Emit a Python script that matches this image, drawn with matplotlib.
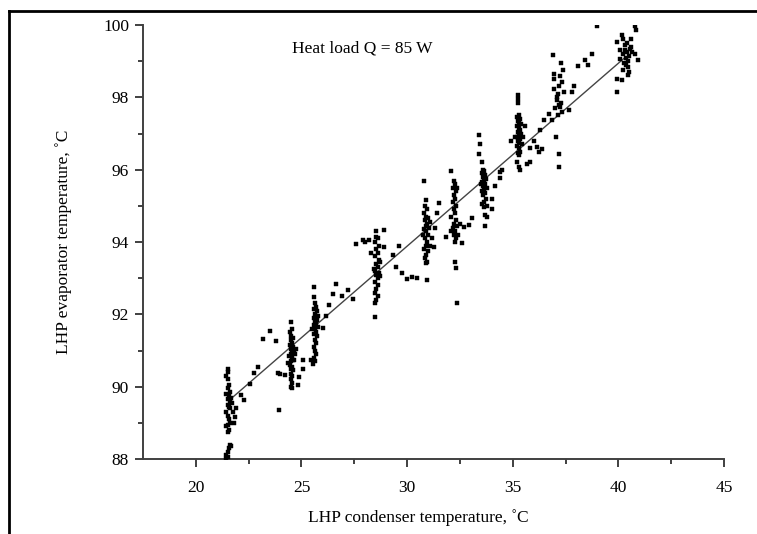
import matplotlib
matplotlib.use("Agg")
import matplotlib.pyplot as plt
import numpy as np
from matplotlib.lines import Line2D

# ---- data ----
c1_x = [21.5, 21.5, 21.45, 21.5, 21.55, 21.5, 21.6, 21.45, 21.55, 21.65, 21.5, 21.6, 21.7, 21.5, 21.55, 21.6,
        21.45, 21.5, 21.55, 21.6, 21.5, 21.45, 21.55, 21.5, 21.6, 21.65, 21.55, 21.5, 21.45, 21.5, 21.45,
        21.92, 22.3, 22.15, 21.84, 22.55, 22.94, 22.74, 21.75, 21.8]
c1_y = [90.5, 90.4, 90.3, 90.2, 90.05, 89.95, 89.85, 89.8, 89.75, 89.7, 89.65, 89.6, 89.55, 89.5, 89.45, 89.4,
        89.3, 89.2, 89.1, 89.0, 88.95, 88.9, 88.8, 88.75, 88.4, 88.35, 88.3, 88.2, 88.1, 88.05, 88.0,
        89.41, 89.63, 89.77, 89.17, 90.07, 90.53, 90.38, 89.3, 89.0]

c2_x = [24.5, 24.55, 24.45, 24.5, 24.6, 24.5, 24.55, 24.45, 24.6, 24.5, 24.55, 24.65, 24.5, 24.4, 24.55,
        24.6, 24.5, 24.45, 24.55, 24.5, 24.6, 24.5, 24.55, 24.5, 24.55, 24.5, 24.55, 24.7, 24.75, 24.35,
        23.88, 24.2, 23.93, 23.49, 23.17, 23.8, 25.06, 24.9, 24.83, 25.46, 25.06, 24.67, 24.0]
c2_y = [91.8, 91.6, 91.5, 91.4, 91.35, 91.3, 91.2, 91.15, 91.1, 91.05, 91.0, 90.95, 90.9, 90.85, 90.8,
        90.75, 90.7, 90.6, 90.55, 90.5, 90.45, 90.35, 90.3, 90.2, 90.1, 90.0, 89.95, 90.9, 91.05, 90.65,
        90.37, 90.32, 89.35, 91.54, 91.33, 91.26, 90.48, 90.27, 90.04, 90.73, 90.73, 90.73, 90.35]

c3_x = [25.6, 25.6, 25.65, 25.7, 25.6, 25.75, 25.65, 25.7, 25.6, 25.75, 25.65, 25.7, 25.6, 25.8, 25.65,
        25.7, 25.6, 25.75, 25.65, 25.7, 25.6, 25.65, 25.7, 25.6, 25.65, 25.55, 25.8, 25.5,
        26.17, 26.0, 26.48, 26.32, 26.64, 27.18, 27.42, 26.9]
c3_y = [92.76, 92.48, 92.3, 92.2, 92.15, 92.1, 92.0, 91.95, 91.9, 91.85, 91.8, 91.75, 91.7, 91.65, 91.6,
        91.5, 91.45, 91.4, 91.3, 91.2, 91.1, 91.0, 90.9, 90.8, 90.7, 90.64, 91.95, 91.6,
        91.95, 91.61, 92.56, 92.25, 92.83, 92.67, 92.42, 92.5]

c4_x = [28.55, 28.6, 28.5, 28.65, 28.55, 28.6, 28.5, 28.65, 28.55, 28.6, 28.5, 28.65, 28.55, 28.6, 28.5,
        28.6, 28.55, 28.5, 28.6, 28.55, 28.5, 28.49, 28.7, 28.45, 28.7,
        28.92, 28.92, 29.31, 29.62, 29.47, 29.78, 30.01, 30.25, 30.49, 28.21, 28.52, 27.9, 27.6, 28.3, 28.0]
c4_y = [94.3, 94.1, 94.0, 93.9, 93.8, 93.7, 93.6, 93.5, 93.4, 93.3, 93.2, 93.15, 93.1, 93.0, 92.9,
        92.8, 92.7, 92.6, 92.5, 92.4, 92.3, 91.93, 93.45, 93.25, 93.05,
        94.33, 93.86, 93.64, 93.88, 93.31, 93.15, 92.99, 93.04, 93.01, 94.05, 94.14, 94.05, 93.95, 93.7, 94.0]

c5_x = [30.8, 30.9, 30.85, 30.95, 30.8, 30.9, 31.0, 30.85, 30.95, 30.9, 31.05, 30.8, 30.9, 31.0, 30.85,
        30.95, 30.9, 30.8, 31.0, 30.9, 30.85, 30.95, 30.9, 31.1, 30.75, 31.1,
        31.51, 31.43, 31.27, 30.96, 31.3, 31.2]
c5_y = [95.69, 95.15, 95.0, 94.9, 94.8, 94.7, 94.65, 94.6, 94.5, 94.45, 94.4, 94.35, 94.3, 94.2, 94.1,
        94.0, 93.9, 93.8, 93.75, 93.65, 93.55, 93.45, 93.41, 94.55, 94.2, 93.9,
        95.07, 94.79, 93.86, 92.94, 94.4, 94.1]

c6_x = [32.09, 32.2, 32.25, 32.15, 32.3, 32.2, 32.25, 32.15, 32.3, 32.2, 32.25, 32.1, 32.3, 32.2, 32.35,
        32.15, 32.25, 32.2, 32.3, 32.25, 32.4, 32.1, 32.26, 32.33, 32.37, 32.37,
        32.69, 32.92, 33.08, 32.61, 31.83, 32.5]
c6_y = [95.96, 95.7, 95.6, 95.5, 95.4, 95.3, 95.2, 95.1, 95.0, 94.9, 94.8, 94.7, 94.6, 94.5, 94.45,
        94.4, 94.3, 94.2, 94.1, 94.0, 94.2, 94.3, 93.45, 93.27, 92.32, 95.48,
        94.42, 94.46, 94.65, 93.96, 94.14, 94.5]

c7_x = [33.4, 33.44, 33.4, 33.55, 33.6, 33.65, 33.55, 33.7, 33.6, 33.75, 33.65, 33.55, 33.7, 33.6, 33.8,
        33.65, 33.55, 33.7, 33.6, 33.75, 33.65, 33.55, 33.63, 33.71, 33.79, 33.68, 33.8, 33.5,
        34.02, 34.18, 34.5, 34.42, 34.0]
c7_y = [96.95, 96.72, 96.44, 96.21, 96.0, 95.95, 95.9, 95.85, 95.8, 95.75, 95.7, 95.65, 95.6, 95.55, 95.5,
        95.45, 95.4, 95.35, 95.3, 95.2, 95.1, 95.05, 94.97, 94.74, 94.68, 94.44, 95.0, 95.6,
        95.18, 95.54, 95.98, 95.78, 94.9]

c8_x = [35.25, 35.25, 35.25, 35.3, 35.2, 35.35, 35.25, 35.3, 35.4, 35.2, 35.3, 35.35, 35.25, 35.4, 35.3,
        35.2, 35.35, 35.25, 35.3, 35.45, 35.2, 35.3, 35.35, 35.25, 35.3, 35.28, 35.36, 35.2, 35.1, 35.5,
        36.15, 36.38, 36.23, 35.83, 35.67, 34.42, 35.8, 36.0, 34.9, 35.6]
c8_y = [98.06, 97.95, 97.85, 97.5, 97.45, 97.4, 97.35, 97.3, 97.25, 97.2, 97.15, 97.1, 97.05, 97.0, 96.95,
        96.9, 96.85, 96.8, 96.75, 96.7, 96.65, 96.6, 96.5, 96.45, 96.4, 96.07, 95.98, 96.2, 96.9, 96.9,
        96.63, 96.58, 96.49, 96.21, 96.17, 95.94, 96.6, 96.8, 96.8, 97.2]

c9_x = [36.9, 37.28, 37.36, 36.93, 37.33, 36.93, 37.41, 37.09, 37.25, 37.64, 36.7, 36.85, 36.46, 37.8,
        37.2, 37.15, 37.1, 37.3, 37.2, 37.0, 37.35, 37.15, 37.04, 37.17, 37.17, 36.95, 37.25,
        38.08, 38.4, 38.55, 38.77, 38.98, 37.9, 36.3]
c9_y = [99.16, 98.95, 98.75, 98.65, 98.42, 98.24, 98.15, 97.92, 97.73, 97.64, 97.55, 97.36, 97.36, 98.15,
        98.3, 98.1, 98.0, 97.85, 97.8, 97.7, 97.6, 97.5, 96.9, 96.44, 96.07, 98.5, 98.6,
        98.87, 99.02, 98.9, 99.19, 99.97, 98.3, 97.1]

c10_x = [40.16, 40.79, 40.82, 40.6, 39.92, 40.32, 40.79, 40.94, 40.08, 40.24, 40.47, 40.47, 39.92, 40.16,
         39.92, 40.3, 40.4, 40.5, 40.35, 40.2, 40.45, 40.25, 40.55, 40.4, 40.1, 40.65, 40.35, 40.5, 40.2, 40.6]
c10_y = [99.71, 99.96, 99.85, 99.62, 99.53, 99.44, 99.21, 99.02, 99.07, 98.75, 98.84, 98.61, 98.52, 98.49,
         98.15, 99.3, 99.25, 99.15, 99.1, 99.2, 99.0, 98.95, 99.35, 99.5, 99.3, 99.25, 98.9, 98.7, 99.6, 99.4]

clusters_x = [c1_x, c2_x, c3_x, c4_x, c5_x, c6_x, c7_x, c8_x, c9_x, c10_x]
clusters_y = [c1_y, c2_y, c3_y, c4_y, c5_y, c6_y, c7_y, c8_y, c9_y, c10_y]

# trend line (end points)
trend_x = [21.65, 40.35]
trend_y = [89.66, 99.12]

x_ticks = [20, 25, 30, 35, 40, 45]
y_ticks = [88, 90, 92, 94, 96, 98, 100]

# ---- figure ----
W, H = 757, 534
fig = plt.figure(figsize=(W / 100, H / 100), dpi=100)
plt.rcParams['font.family'] = ['Liberation Serif', 'DejaVu Serif']

ax = fig.add_axes([143 / W, 1 - 459 / H, (724 - 143) / W, (459 - 25) / H])

all_x = np.concatenate([np.array(c) for c in clusters_x])
all_y = np.concatenate([np.array(c) for c in clusters_y])
ax.plot(all_x, all_y, linestyle='none', marker='s', markersize=2.5,
        markerfacecolor='black', markeredgecolor='black', markeredgewidth=0.3, zorder=3)

ax.plot(trend_x, trend_y, color='#444444', linewidth=1.0, zorder=2)

ax.set_xlim(17.5, 45)
ax.set_ylim(88, 100)
ax.set_xticks(x_ticks)
ax.set_yticks(y_ticks)
ax.set_xticks(np.arange(22.5, 45, 5), minor=True)
ax.set_yticks(np.arange(89, 100, 2), minor=True)

for s in ['top', 'right']:
    ax.spines[s].set_visible(False)
for s in ['left', 'bottom']:
    ax.spines[s].set_color('#404040')
    ax.spines[s].set_linewidth(1.4)

ax.tick_params(which='major', length=6, width=1.4, color='#404040', labelsize=12.5)
ax.tick_params(which='minor', length=3.5, width=1.4, color='#404040')
ax.tick_params(axis='x', which='major', pad=9)
ax.tick_params(axis='y', which='major', pad=4)

ax.set_xlabel('LHP condenser temperature, ˚C', fontsize=12.5)
ax.set_ylabel('LHP evaporator temperature, ˚C', fontsize=12.5)
ax.xaxis.set_label_coords(0.473, -0.115)
ax.yaxis.set_label_coords(-0.122, 0.5)

ax.text(0.256, 0.945, 'Heat load Q = 85 W', transform=ax.transAxes, fontsize=12.5,
        ha='left', va='center')

# outer frame (cropped figure border)
fig.add_artist(Line2D([9 / W, 1.0], [1 - 11 / H, 1 - 11 / H], transform=fig.transFigure,
                      color='black', linewidth=2.0))
fig.add_artist(Line2D([9 / W, 9 / W], [0.0, 1 - 11 / H], transform=fig.transFigure,
                      color='black', linewidth=2.0))

fig.savefig('out.png', dpi=100)
